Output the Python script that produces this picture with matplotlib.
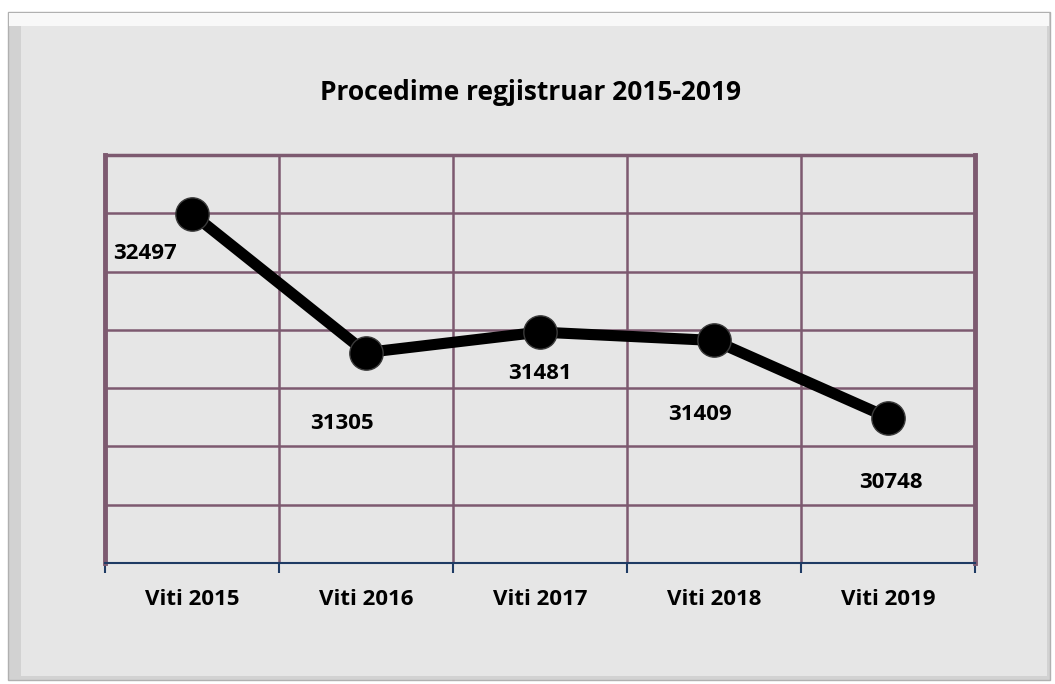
import matplotlib.pyplot as plt
from matplotlib.patches import Rectangle
import numpy as np

years = ["Viti 2015", "Viti 2016", "Viti 2017", "Viti 2018", "Viti 2019"]
values = [32497, 31305, 31481, 31409, 30748]
# label offsets in points (dx, dy) relative to each point
label_offsets = [(-34, -29), (-17, -51), (0, -30), (-10, -53), (2, -47)]

plt.rcParams['font.family'] = ['Open Sans', 'DejaVu Sans']

fig = plt.figure(figsize=(10.55, 6.84), dpi=100)
fig.patch.set_facecolor('white')

# outer frame with a light bevel
W, H = 1055, 684
fig.patches.append(Rectangle((8 / W, 4 / H), 1042 / W, 668 / H,
                             transform=fig.transFigure, facecolor='#d2d2d2',
                             edgecolor='#b0b0b0', lw=1, zorder=-3))
fig.patches.append(Rectangle((9 / W, (H - 26) / H), 1040 / W, 13 / H,
                             transform=fig.transFigure, facecolor='#f8f8f8',
                             edgecolor='none', zorder=-2))
fig.patches.append(Rectangle((21 / W, 8 / H), 1026 / W, 650 / H,
                             transform=fig.transFigure, facecolor='#e6e6e6',
                             edgecolor='none', zorder=-1))

ax = fig.add_axes([105 / W, 121 / H, 870 / W, 408 / H])
ax.set_facecolor('#e6e6e6')
grid_col = '#7d5a70'

x = np.arange(len(years))
ax.set_xlim(-0.5, len(years) - 0.5)
ax.set_ylim(29500, 33000)

for yv in np.arange(30000, 33000, 500):
    ax.axhline(yv, color=grid_col, lw=1.8, zorder=1)
for xv in np.arange(0.5, len(years) - 0.5, 1):
    ax.axvline(xv, color=grid_col, lw=1.8, zorder=1)

for side in ['left', 'right']:
    ax.spines[side].set_color(grid_col)
    ax.spines[side].set_linewidth(3.5)
ax.spines['top'].set_color(grid_col)
ax.spines['top'].set_linewidth(2.5)
ax.spines['bottom'].set_color('#1f3b64')
ax.spines['bottom'].set_linewidth(1.5)

ax.set_yticks([])
ax.set_xticks(np.arange(-0.5, len(years), 1), minor=False)
ax.set_xticklabels([])
ax.tick_params(axis='x', which='major', length=7, width=1.5, color='#1f3b64', direction='out')
ax.set_xticks(x, minor=True)
ax.set_xticklabels(years, minor=True, fontsize=16, fontweight='bold')
ax.tick_params(axis='x', which='minor', length=0, pad=19)

ax.plot(x, values, color='black', lw=8, zorder=3, solid_capstyle='round')
ax.plot(x, values, 'o', color='black', ms=24, zorder=4,
        markeredgecolor='#3a3a3a', markeredgewidth=1)

for xi, v, (dx, dy) in zip(x, values, label_offsets):
    ax.annotate(str(v), (xi, v), xytext=(dx, dy), textcoords='offset points',
                ha='center', va='center', fontsize=16, fontweight='bold')

fig.text(530 / W, 1 - 93 / H, "Procedime regjistruar 2015-2019",
         ha='center', va='center', fontsize=19, fontweight='bold')

fig.savefig('out.png', dpi=100)
